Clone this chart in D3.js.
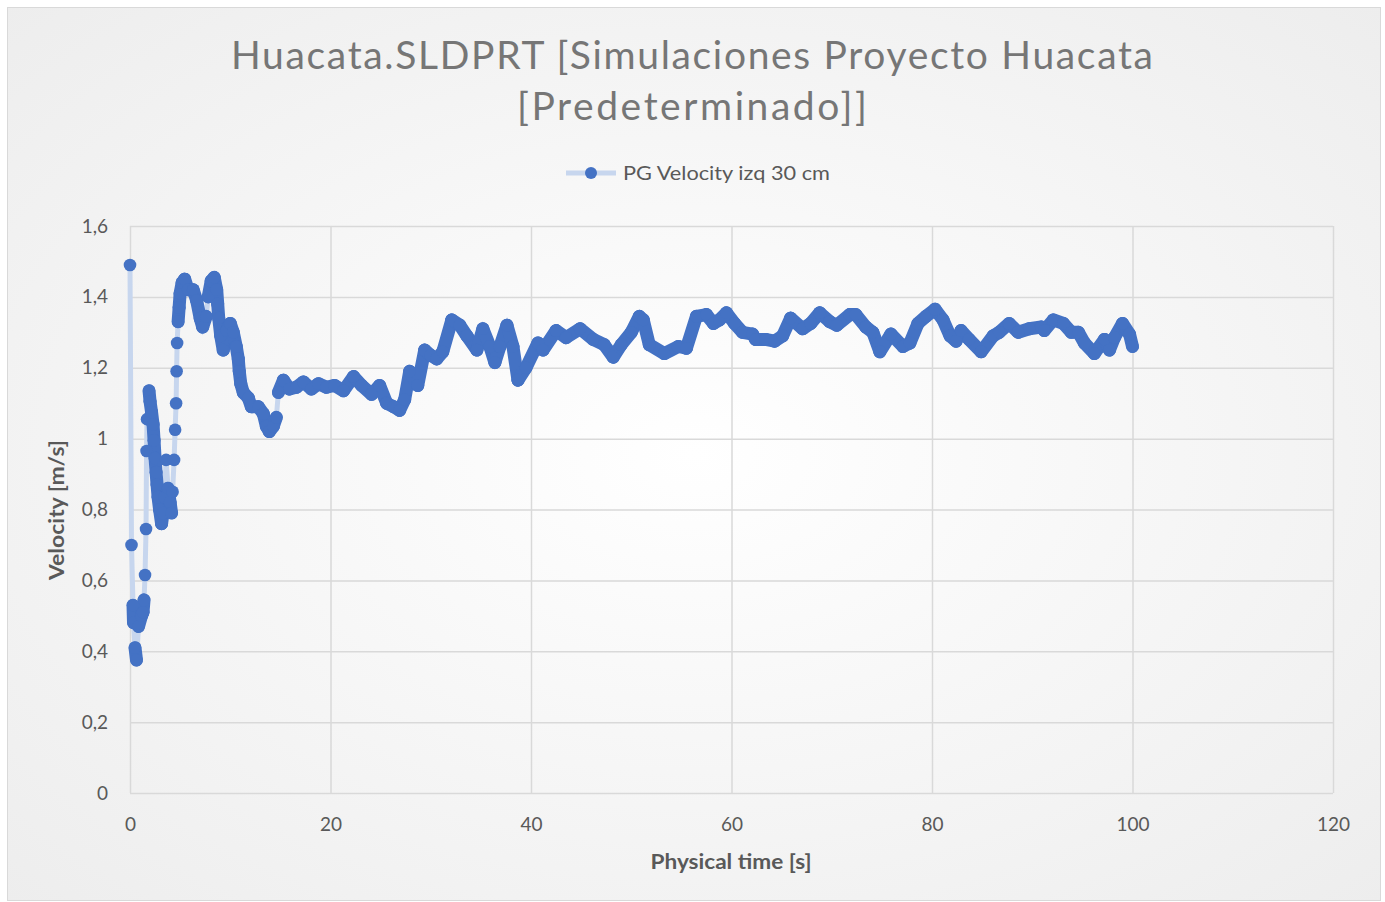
<!DOCTYPE html>
<html>
<head>
<meta charset="utf-8">
<script src="https://cdn.jsdelivr.net/npm/d3@7"></script>
<style>
  body { margin: 0; background: #fff; }
  text { font-family: Lato, "Open Sans", sans-serif; }
</style>
</head>
<body>
<div id="chart"></div>
<script>
// data
const times = [0.0, 0.15, 0.3, 0.35, 0.5, 0.65, 0.85, 1.15, 1.3, 1.4, 1.5, 1.6, 1.65, 1.7, 1.9, 2.0, 2.15, 2.3, 2.4, 2.5,
  2.6, 2.7, 2.8, 2.95, 3.15, 3.3, 3.45, 3.6, 3.8, 4.0, 4.15, 4.25, 4.4, 4.5, 4.6, 4.65, 4.7, 4.8, 4.9, 5.0,
  5.2, 5.45, 5.8, 6.3, 6.65, 7.0, 7.25, 7.6, 7.8, 8.1, 8.4, 8.65, 8.75, 8.85, 9.05, 9.3, 9.65, 10.0, 10.3, 10.6,
  10.8, 10.9, 11.05, 11.3, 11.8, 12.1, 12.8, 13.3, 13.6, 13.9, 14.3, 14.6, 14.8, 15.3, 15.9, 16.6, 17.3, 18.1, 18.8, 19.6,
  20.4, 21.3, 22.3, 23.1, 24.1, 24.9, 25.6, 26.3, 26.9, 27.4, 27.9, 28.7, 29.4, 30.0, 30.6, 31.2, 32.1, 32.9, 33.6, 34.6,
  35.2, 35.9, 36.4, 36.9, 37.6, 38.2, 38.7, 39.5, 40.7, 41.2, 42.5, 43.5, 44.9, 46.2, 47.3, 48.2, 49.0, 50.0, 50.8, 51.2,
  51.8, 53.3, 54.7, 55.5, 56.5, 57.5, 58.2, 58.8, 59.5, 60.3, 61.1, 62.1, 62.4, 63.4, 64.3, 65.1, 65.9, 67.1, 67.9, 68.8,
  69.8, 70.5, 71.8, 72.4, 73.4, 74.1, 74.8, 75.9, 77.1, 77.8, 78.6, 79.4, 80.3, 81.1, 81.8, 82.4, 82.9, 83.7, 84.9, 86.1,
  86.7, 87.7, 88.6, 89.7, 90.9, 91.2, 92.1, 93.1, 93.9, 94.6, 95.2, 96.2, 97.2, 97.7, 98.2, 99.0, 99.7, 100.0];
const velocity = [1.49, 0.70, 0.53, 0.48, 0.41, 0.375, 0.47, 0.50, 0.51, 0.545, 0.615, 0.745, 0.965, 1.055, 1.135, 1.105, 1.075, 1.04, 0.995, 0.945,
  0.905, 0.87, 0.835, 0.80, 0.76, 0.79, 0.835, 0.94, 0.86, 0.82, 0.79, 0.85, 0.94, 1.025, 1.10, 1.19, 1.27, 1.33, 1.37, 1.41,
  1.44, 1.45, 1.42, 1.42, 1.39, 1.34, 1.315, 1.345, 1.40, 1.445, 1.455, 1.42, 1.38, 1.34, 1.29, 1.25, 1.305, 1.325, 1.30, 1.26,
  1.225, 1.19, 1.155, 1.13, 1.115, 1.09, 1.09, 1.07, 1.035, 1.02, 1.035, 1.06, 1.13, 1.165, 1.14, 1.145, 1.16, 1.14, 1.155, 1.145,
  1.15, 1.135, 1.175, 1.15, 1.125, 1.15, 1.10, 1.09, 1.08, 1.11, 1.19, 1.15, 1.25, 1.235, 1.225, 1.245, 1.335, 1.32, 1.29, 1.25,
  1.31, 1.26, 1.215, 1.26, 1.32, 1.26, 1.165, 1.20, 1.27, 1.25, 1.305, 1.285, 1.31, 1.28, 1.265, 1.23, 1.265, 1.30, 1.345, 1.335,
  1.265, 1.24, 1.26, 1.255, 1.345, 1.35, 1.325, 1.335, 1.355, 1.325, 1.30, 1.295, 1.28, 1.28, 1.275, 1.29, 1.34, 1.31, 1.325, 1.355,
  1.33, 1.32, 1.35, 1.35, 1.315, 1.30, 1.245, 1.295, 1.26, 1.27, 1.325, 1.345, 1.365, 1.335, 1.29, 1.275, 1.305, 1.28, 1.245, 1.29,
  1.30, 1.325, 1.30, 1.31, 1.315, 1.305, 1.335, 1.325, 1.30, 1.30, 1.27, 1.24, 1.28, 1.25, 1.285, 1.325, 1.295, 1.26];
const xTicks = [0, 20, 40, 60, 80, 100, 120];
const yTicks = [0, 0.2, 0.4, 0.6, 0.8, 1.0, 1.2, 1.4, 1.6];
const titleLines = ["Huacata.SLDPRT [Simulaciones Proyecto Huacata", "[Predeterminado]]"];
const seriesName = "PG Velocity izq 30 cm";

const width = 1385, height = 902;
const margin = {top: 226, right: 52, bottom: 109, left: 130};
const blue = "#4472c4", lightLine = "#c7d6ee", grid = "#d9d9d9", textCol = "#595959";

const svg = d3.select("#chart").append("svg")
  .attr("width", width).attr("height", height);

// chart background, soft radial gradient like the original
const defs = svg.append("defs");
const grad = defs.append("radialGradient").attr("id", "bg")
  .attr("cx", "50%").attr("cy", "50%").attr("r", "75%");
grad.append("stop").attr("offset", "0%").attr("stop-color", "#ffffff");
grad.append("stop").attr("offset", "100%").attr("stop-color", "#ececec");
svg.append("rect").attr("x", 7.5).attr("y", 7.5).attr("width", 1373).attr("height", 893)
  .attr("fill", "url(#bg)").attr("stroke", grid);

let x = d3.scaleLinear().domain([0, 120]).range([margin.left, width - margin.right]);
let y = d3.scaleLinear().domain([0, 1.6]).range([height - margin.bottom, margin.top]);

// gridlines
svg.append("g")
  .attr("transform", `translate(${margin.left},0)`)
  .call(d3.axisLeft(y).tickValues(yTicks).tickSize(-(width - margin.left - margin.right))
        .tickFormat(d => d3.format(".1~f")(d).replace(".", ",")))
  .call(g => g.select(".domain").remove())
  .call(g => g.selectAll("line").attr("stroke", grid).attr("stroke-width", 1.5))
  .call(g => g.selectAll("text").attr("fill", textCol).attr("font-size", "19px").attr("x", -22));

svg.append("g")
  .attr("transform", `translate(0,${height - margin.bottom})`)
  .call(d3.axisBottom(x).tickValues(xTicks).tickSize(-(height - margin.top - margin.bottom)))
  .call(g => g.select(".domain").remove())
  .call(g => g.selectAll("line").attr("stroke", grid).attr("stroke-width", 1.5))
  .call(g => g.selectAll("text").attr("fill", textCol).attr("font-size", "19px").attr("y", 25));

// series
const pts = times.map((t, i) => ({t: t, v: velocity[i]}));

svg.append("path")
  .datum(pts)
  .attr("fill", "none")
  .attr("stroke", lightLine)
  .attr("stroke-width", 5)
  .attr("d", d3.line().x(d => x(d.t)).y(d => y(d.v)));

// the real series is very dense, so markers merge into a band:
// join neighbours with a marker-wide stroke unless it is a big jump in one step
const band = svg.append("g");
for (let i = 1; i < pts.length; i++) {
  const a = pts[i - 1], b = pts[i];
  const dx = x(b.t) - x(a.t);
  const dist = Math.hypot(dx, y(b.v) - y(a.v));
  if (dist < 18 || dx >= 3) {
    band.append("line")
      .attr("x1", x(a.t)).attr("y1", y(a.v))
      .attr("x2", x(b.t)).attr("y2", y(b.v))
      .attr("stroke", blue).attr("stroke-width", 13).attr("stroke-linecap", "round");
  }
}

svg.selectAll("circle.pt")
  .data(pts)
  .enter()
  .append("circle")
    .attr("class", "pt")
    .attr("cx", d => x(d.t))
    .attr("cy", d => y(d.v))
    .attr("r", 6.3)
    .attr("fill", blue);

// title
svg.selectAll("text.title")
  .data(titleLines)
  .enter()
  .append("text")
    .attr("class", "title")
    .attr("x", 692)
    .attr("y", (d, i) => 69 + i * 51)
    .attr("text-anchor", "middle")
    .attr("font-size", "39px")
    .attr("fill", "#767676")
    .attr("textLength", (d, i) => i === 0 ? 922 : 350)
    .attr("lengthAdjust", "spacing")
    .text(d => d);

// legend
svg.append("line").attr("x1", 566).attr("x2", 616).attr("y1", 173).attr("y2", 173)
  .attr("stroke", lightLine).attr("stroke-width", 5);
svg.append("circle").attr("cx", 591).attr("cy", 173).attr("r", 6).attr("fill", blue);
svg.append("text").attr("x", 623).attr("y", 180)
  .attr("font-size", "20px").attr("fill", textCol)
  .attr("textLength", 207).attr("lengthAdjust", "spacingAndGlyphs")
  .text(seriesName);

// axis titles
svg.append("text")
  .attr("x", 731).attr("y", 869)
  .attr("text-anchor", "middle")
  .attr("font-size", "20px").attr("font-weight", "bold").attr("fill", textCol)
  .attr("textLength", 161).attr("lengthAdjust", "spacingAndGlyphs")
  .text("Physical time [s]");

svg.append("text")
  .attr("transform", "translate(64,510) rotate(-90)")
  .attr("text-anchor", "middle")
  .attr("font-size", "20px").attr("font-weight", "bold").attr("fill", textCol)
  .attr("textLength", 140).attr("lengthAdjust", "spacingAndGlyphs")
  .text("Velocity [m/s]");
</script>
</body>
</html>
